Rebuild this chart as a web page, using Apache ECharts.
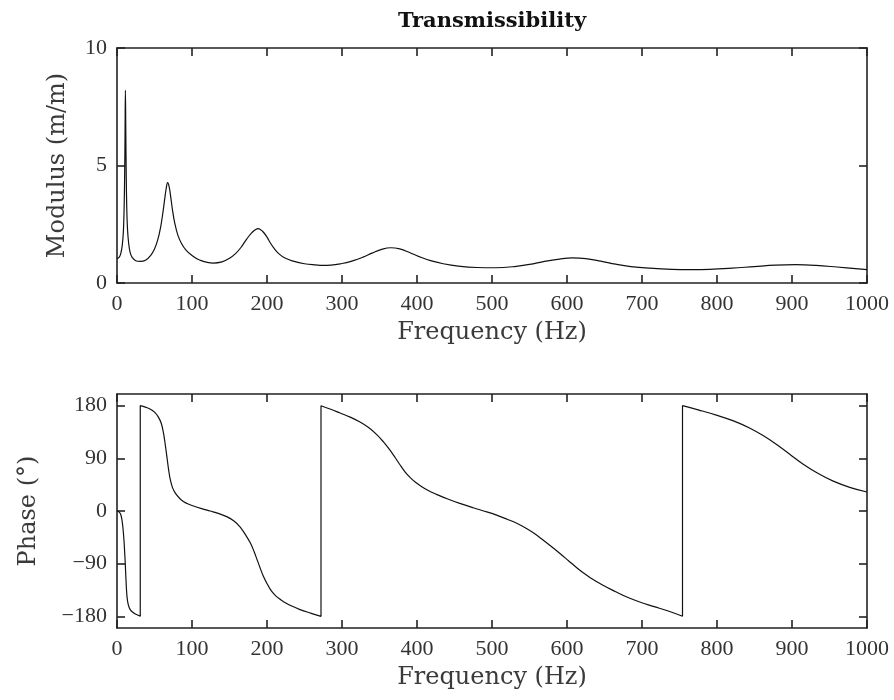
<!DOCTYPE html>
<html>
<head>
<meta charset="utf-8">
<script src="https://cdn.jsdelivr.net/npm/echarts@6/dist/echarts.min.js"></script>
<style>
  html, body { margin: 0; padding: 0; background: #fff; }
  #chart { width: 894px; height: 700px; }
</style>
</head>
<body>
<div id="chart"></div>
<script>
// modulus (m/m) against frequency (Hz)
let modFreq = [0, 3, 5, 7, 8.5, 9.5, 10.2, 10.7, 11.2, 11.7, 12.3, 13, 14, 15.5, 17.5, 20, 25, 31,
  38, 45, 50, 54, 58, 61, 63.5, 65.5, 67.5, 69.5, 71.5, 74, 77, 81, 86, 92, 100, 110, 128,
  140, 150, 158, 165, 171, 176, 181, 185, 188, 191, 195, 200, 205, 210, 216, 224, 235, 250, 265, 275,
  300, 315, 328, 340, 352, 365, 377, 390, 403, 418, 435, 455, 480, 505, 530, 550, 570, 590, 607, 625,
  645, 665, 685, 710, 740, 765, 790, 820, 850, 878, 905, 932, 960, 1000];
let modValue = [1.04, 1.1, 1.25, 1.6, 2.2, 3.2, 4.6, 6.2, 8.2, 6.6, 4.6, 3.2, 2.3, 1.7, 1.3, 1.1, 0.95, 0.92,
  0.97, 1.18, 1.45, 1.8, 2.35, 2.95, 3.55, 4.0, 4.27, 4.1, 3.7, 3.1, 2.55, 2.05, 1.68, 1.4, 1.17, 0.98, 0.85,
  0.9, 1.05, 1.25, 1.5, 1.78, 2.0, 2.18, 2.28, 2.31, 2.28, 2.17, 1.95, 1.68, 1.45, 1.24, 1.06, 0.93, 0.82, 0.77, 0.75,
  0.83, 0.95, 1.1, 1.27, 1.42, 1.5, 1.45, 1.3, 1.12, 0.95, 0.82, 0.72, 0.66, 0.65, 0.7, 0.79, 0.92, 1.02, 1.07, 1.04,
  0.93, 0.8, 0.7, 0.63, 0.58, 0.57, 0.58, 0.63, 0.7, 0.76, 0.78, 0.75, 0.68, 0.57];

// phase (deg) against frequency (Hz), bottom panel; repeated x = wrap from -180 to 180
let phaseFreq = [0, 3, 5, 6.7, 8, 9.3, 10.2, 11, 12, 13.3, 15, 17.8, 22, 26, 31,
  31, 38, 44, 50, 55, 59, 62, 64.5, 67, 69, 71, 74, 78, 84, 89, 95, 102, 113, 124,
  135, 147, 156, 164, 171, 178, 183, 187, 191, 195, 200, 204, 208, 212, 217, 222, 233, 244, 258, 272,
  272, 285, 297.5, 311, 324, 335, 346, 355, 364, 371, 377, 384, 391, 398, 404, 415, 426,
  441, 457, 475, 493, 507, 520, 533, 546, 557, 568, 580, 591, 602, 613, 622, 631,
  648, 665, 679, 697, 715, 735, 754,
  754, 776, 799, 822, 844, 862, 879, 897, 915, 935, 955, 978, 1000];
let phaseValue = [0, -2, -6, -16, -30, -50, -70, -89, -118, -146, -160, -169, -174, -177, -180,
  180, 177.5, 174.5, 169, 161, 150, 133, 112, 88, 69, 54, 40, 30, 21, 16, 12, 8.5, 4, 0,
  -4, -10, -17, -27, -40, -55, -70, -84, -98, -111, -124, -133, -140, -145.5, -150.5, -155, -162.5, -168.5, -174.5, -180,
  180, 174, 167.5, 160.5, 152, 143, 131, 118.5, 104, 91, 79.5, 67, 57, 49, 43.5, 35, 28.5,
  20.5, 13, 5.5, -1.5, -7.5, -14, -21, -30, -39, -49.5, -61.5, -73, -85, -97, -106, -114,
  -127, -138, -146.5, -155.5, -163, -171, -180,
  180, 172.5, 164, 154, 141.5, 128.5, 114, 97, 80, 64, 51, 40, 32.5];

let freqTicks = [0, 1000, 100];   // min, max, step
let modTicks = [0, 10, 5];
let phaseRange = [-200, 200];
let phaseTicks = [-180, -90, 0, 90, 180];

let chartDom = document.getElementById('chart');
let myChart = echarts.init(chartDom);

let serif = 'Liberation Serif';
let nameFont = 'DejaVu Serif';
let ink = '#222';

function pairs(xs, ys) {
    return xs.map(function (x, i) { return [x, ys[i]]; });
}

function fmt(v) {
    return v < 0 ? '\u2212' + (-v) : String(v);
}

function freqAxis(grid, pos, labelled) {
    return {
        type: 'value',
        gridIndex: grid,
        position: pos,
        min: freqTicks[0],
        max: freqTicks[1],
        interval: freqTicks[2],
        name: labelled ? 'Frequency (Hz)' : '',
        nameLocation: 'middle',
        nameGap: 38,
        nameTextStyle: { fontFamily: nameFont, fontSize: 24, color: '#3a3a3a' },
        axisLine: { show: true, onZero: false, lineStyle: { color: ink, width: 1.6 } },
        axisTick: { show: true, inside: true, length: 8, lineStyle: { color: ink, width: 1.6 } },
        axisLabel: { show: labelled, margin: 10, fontFamily: serif, fontSize: 22, color: '#333', formatter: fmt },
        splitLine: { show: false }
    };
}

function yAxis(grid, pos, labelled, extra) {
    let ax = {
        type: 'value',
        gridIndex: grid,
        position: pos,
        nameLocation: 'middle',
        nameRotate: 90,
        nameTextStyle: { fontFamily: nameFont, fontSize: 24, color: '#3a3a3a' },
        axisLine: { show: true, onZero: false, lineStyle: { color: ink, width: 1.6 } },
        axisTick: { show: true, inside: true, length: 8, lineStyle: { color: ink, width: 1.6 } },
        axisLabel: { show: labelled, margin: 10, fontFamily: serif, fontSize: 22, color: '#333', formatter: fmt },
        splitLine: { show: false }
    };
    return Object.assign(ax, extra);
}

let modAxis = { min: modTicks[0], max: modTicks[1], interval: modTicks[2] };
let phaseAxis = { min: phaseRange[0], max: phaseRange[1] };

option = {
    animation: false,
    backgroundColor: '#fff',
    title: {
        text: 'Transmissibility',
        left: 492,
        top: 11,
        padding: 0,
        textAlign: 'center',
        textStyle: { fontFamily: nameFont, fontWeight: 'bold', fontSize: 21, color: '#111' }
    },
    grid: [
        { left: 117, right: 27, top: 48, height: 235 },
        { left: 117, right: 27, top: 394, height: 234 }
    ],
    xAxis: [
        freqAxis(0, 'bottom', true),
        freqAxis(0, 'top', false),
        freqAxis(1, 'bottom', true),
        freqAxis(1, 'top', false)
    ],
    yAxis: [
        yAxis(0, 'left', true, Object.assign({ name: 'Modulus (m/m)', nameGap: 47 }, modAxis)),
        yAxis(0, 'right', false, Object.assign({}, modAxis)),
        yAxis(1, 'left', true, Object.assign({ name: 'Phase (\u00b0)', nameGap: 76 }, phaseAxis)),
        yAxis(1, 'right', false, Object.assign({}, phaseAxis))
    ],
    series: [{
        type: 'line',
        xAxisIndex: 0,
        yAxisIndex: 0,
        data: pairs(modFreq, modValue),
        showSymbol: false,
        smooth: 0.4,
        lineStyle: { color: '#111', width: 1.2 }
    }, {
        type: 'line',
        xAxisIndex: 2,
        yAxisIndex: 2,
        data: pairs(phaseFreq, phaseValue),
        showSymbol: false,
        smooth: 0.4,
        lineStyle: { color: '#111', width: 1.2 }
    }]
};

// phase ticks sit at multiples of 90 inside a +-200 range
[2, 3].forEach(function (i) {
    option.yAxis[i].axisTick.customValues = phaseTicks;
    option.yAxis[i].axisLabel.customValues = phaseTicks;
});

myChart.setOption(option);
</script>
</body>
</html>
